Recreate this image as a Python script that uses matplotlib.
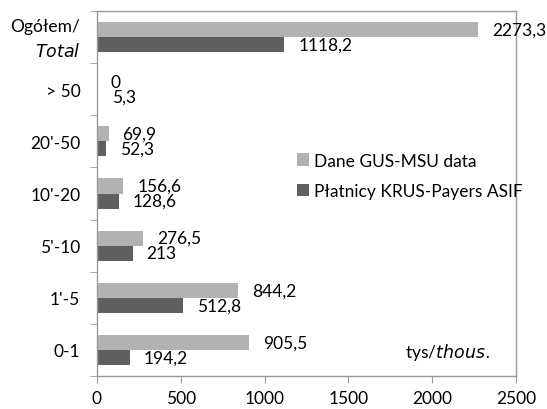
import matplotlib.pyplot as plt
import numpy as np

plt.rcParams['font.family'] = ['Lato', 'DejaVu Sans']

categories = ['0-1', "1'-5", "5'-10", "10'-20", "20'-50", '> 50', 'Ogółem/\n$\\it{Total}$']
gus_msu = [905.5, 844.2, 276.5, 156.6, 69.9, 0, 2273.3]
krus = [194.2, 512.8, 213, 128.6, 52.3, 5.3, 1118.2]
gus_labels = ['905,5', '844,2', '276,5', '156,6', '69,9', '0', '2273,3']
krus_labels = ['194,2', '512,8', '213', '128,6', '52,3', '5,3', '1118,2']

light = '#b2b2b2'
dark = '#5f5f5f'
edge = '#999999'
fs = 12.5

fig = plt.figure(figsize=(5.47, 4.10), dpi=100)
ax = fig.add_axes([97 / 547, 33 / 410, 419 / 547, 365 / 410])

y = np.arange(len(categories))
h = 0.29
ax.barh(y + h / 2, gus_msu, height=h, color=light, label='Dane GUS-MSU data')
ax.barh(y - h / 2, krus, height=h, color=dark, label='Płatnicy KRUS-Payers ASIF')

# value labels next to the bar ends
for yi, v, t in zip(y, gus_msu, gus_labels):
    ax.annotate(t, (v, yi + h / 2), xytext=(10, 0), textcoords='offset points',
                va='center', ha='left', fontsize=fs)
for yi, v, t in zip(y, krus, krus_labels):
    ax.annotate(t, (v, yi - h / 2), xytext=(10, 0), textcoords='offset points',
                va='center', ha='left', fontsize=fs)

ax.set_xlim(0, 2500)
ax.set_ylim(-0.5, len(categories) - 0.5)
ax.set_xticks([0, 500, 1000, 1500, 2000, 2500])
ax.set_yticks(y)
ax.set_yticklabels([])
ax.set_yticks(np.arange(-0.5, len(categories), 1), minor=True)
ax.tick_params(axis='y', which='major', length=0)
ax.tick_params(axis='y', which='minor', length=5, color=edge)
ax.tick_params(axis='x', length=5, color=edge, labelsize=fs, pad=5)

for yi, c in zip(y, categories):
    ax.annotate(c, (0, yi), xycoords=('axes fraction', 'data'), xytext=(-12, -1),
                textcoords='offset points', ha='right', va='center',
                fontsize=fs, linespacing=1.45)

for s in ax.spines.values():
    s.set_color(edge)
    s.set_linewidth(1)

ax.legend(loc='center left', bbox_to_anchor=(288 / 547, 1 - 177 / 410),
          bbox_transform=fig.transFigure, frameon=False, fontsize=fs, borderpad=0,
          handlelength=0.7, handleheight=0.7, handletextpad=0.3, labelspacing=0.85)

fig.text(490 / 547, 1 - 353 / 410, 'tys/$\\it{thous.}$', ha='right', va='center',
         fontsize=fs)

fig.savefig('out.png', dpi=100)
